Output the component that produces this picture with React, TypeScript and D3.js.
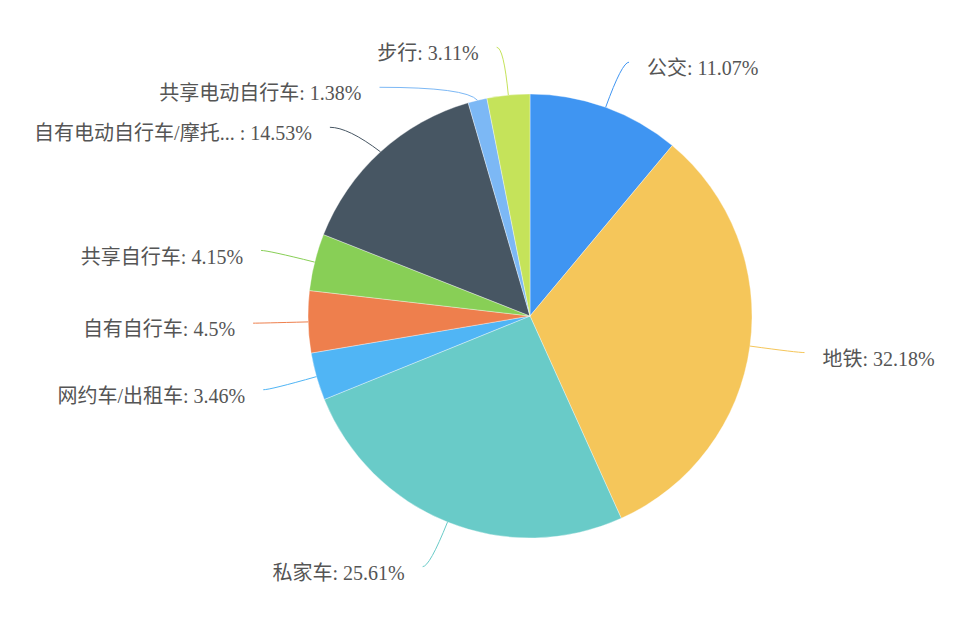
import React from "react";
import * as d3 from "d3";

const categories = [
  "公交",
  "地铁",
  "私家车",
  "网约车/出租车",
  "自有自行车",
  "共享自行车",
  "自有电动自行车/摩托... ",
  "共享电动自行车",
  "步行",
];
const values = [11.07, 32.18, 25.61, 3.46, 4.5, 4.15, 14.53, 1.38, 3.11];
const colors = [
  "#3f95f2",
  "#f5c65a",
  "#69cbc8",
  "#50b5f5",
  "#ee7f4d",
  "#88cf56",
  "#475663",
  "#7cb8f5",
  "#c5e35a",
];

const W = 964;
const H = 642;
const cx = 530;
const cy = 316;
const r = 222;
const lineLen1 = 48;
const lineLen2 = 7;
const textGap = 18;
const minGap = 40;

type Lab = {
  i: number;
  side: number;
  E: [number, number];
  B: [number, number];
  P: [number, number];
  y: number;
  shifted: boolean;
};

export default function App() {
  const pie = d3
    .pie<number>()
    .sort(null)
    .value((d) => d)
    .startAngle(0)
    .endAngle(2 * Math.PI);
  const arcs = pie(values);
  const arcGen = d3.arc<d3.PieArcDatum<number>>().innerRadius(0).outerRadius(r);

  const R1 = r + lineLen1;
  const labels: Lab[] = arcs.map((a, i) => {
    const mid = (a.startAngle + a.endAngle) / 2;
    const sx = Math.sin(mid);
    const sy = -Math.cos(mid);
    const side = sx < 0 ? -1 : 1;
    const E: [number, number] = [cx + r * sx, cy + r * sy];
    const B: [number, number] = [cx + R1 * sx, cy + R1 * sy];
    const P: [number, number] = [B[0] + side * lineLen2, B[1]];
    return { i, side, E, B, P, y: P[1], shifted: false };
  });

  [-1, 1].forEach((side) => {
    const group = labels.filter((l) => l.side === side).sort((a, b) => a.y - b.y);
    for (let k = 1; k < group.length; k++) {
      const prev = group[k - 1];
      const cur = group[k];
      if (cur.y - prev.y < minGap) {
        cur.y = prev.y + minGap;
        cur.shifted = true;
      }
    }
    group.forEach((l) => {
      if (l.shifted) {
        const dy = l.y - cy;
        const dx = Math.sqrt(Math.max(0, R1 * R1 - dy * dy));
        l.B = [l.B[0], l.y];
        l.P = [cx + side * (dx + lineLen2), l.y];
      }
    });
  });

  return (
    <svg
      width={W}
      height={H}
      style={{ position: "absolute", left: 0, top: 0, background: "#fff" }}
    >
      <g>
        {arcs.map((a, i) => (
          <path
            key={i}
            d={arcGen(a) || ""}
            transform={`translate(${cx},${cy})`}
            fill={colors[i]}
            stroke="#ffffff"
            strokeWidth={0.6}
            strokeOpacity={0.6}
          />
        ))}
      </g>
      <g>
        {labels.map((l) => {
          const p = d3.path();
          p.moveTo(l.E[0], l.E[1]);
          p.quadraticCurveTo(l.B[0], l.B[1], l.P[0], l.P[1]);
          return (
            <path
              key={l.i}
              d={p.toString()}
              fill="none"
              stroke={colors[l.i]}
              strokeWidth={1}
            />
          );
        })}
      </g>
      <g
        style={{
          fontFamily: '"Liberation Serif", "Noto Sans CJK SC", serif',
          fontSize: 20,
        }}
        fill="#555555"
      >
        {labels.map((l) => (
          <text
            key={l.i}
            x={l.P[0] + l.side * textGap}
            y={l.P[1] + 8.5}
            textAnchor={l.side < 0 ? "end" : "start"}
            dominantBaseline="middle"
          >
            {`${categories[l.i]}: ${values[l.i]}%`}
          </text>
        ))}
      </g>
    </svg>
  );
}
